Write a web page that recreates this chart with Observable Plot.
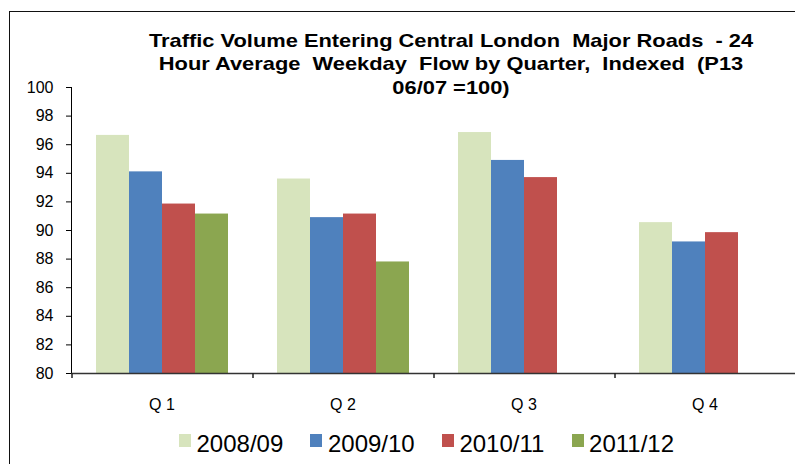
<!DOCTYPE html>
<html>
<head>
<meta charset="utf-8">
<script src="https://cdn.jsdelivr.net/npm/d3@7"></script>
<script src="https://cdn.jsdelivr.net/npm/@observablehq/plot@0.6"></script>
<style>
  html, body { margin: 0; padding: 0; background: #fff; }
  #wrap { position: relative; width: 795px; height: 464px; overflow: hidden; font-family: "Liberation Sans", Arial, sans-serif; }
  #frame { position: absolute; left: 8.5px; top: 10.5px; width: 820px; height: 480px; border: 1.5px solid #111; box-sizing: border-box; }
  #chart { position: absolute; left: 0; top: 0; }
  #title { position: absolute; left: 0; top: 28.6px; width: 902px; text-align: center; font-weight: bold; font-size: 19px; line-height: 23.7px; color: #000; white-space: pre; }
  #title div { display: block; transform: scaleX(1.15); transform-origin: 451px 0; }
  #legend { position: absolute; left: 179px; top: 430px; display: flex; gap: 27.2px; font-size: 24px; line-height: 28px; color: #000; }
  .item { display: flex; align-items: flex-start; }
  .sw { width: 12px; height: 13px; margin-top: 4px; margin-right: 5.5px; }
</style>
</head>
<body>
<div id="wrap">
  <div id="frame"></div>
  <div id="chart"></div>
  <div id="title"></div>
  <div id="legend"></div>
</div>
<script>
// Data
const quarters = ["Q 1", "Q 2", "Q 3", "Q 4"];
const years = ["2008/09", "2009/10", "2010/11", "2011/12"];
const colors = ["#D7E4BD", "#4F81BD", "#C0504D", "#8BA650"];
const v2008_09 = [96.65, 93.6, 96.85, 90.55];
const v2009_10 = [94.1, 90.9, 94.9, 89.2];
const v2010_11 = [91.85, 91.15, 93.7, 89.85];
const v2011_12 = [91.15, 87.8, null, null];
const yTicks = [80, 82, 84, 86, 88, 90, 92, 94, 96, 98, 100];
const titleLines = [
  "Traffic Volume Entering Central London  Major Roads  - 24",
  "Hour Average  Weekday  Flow by Quarter,  Indexed  (P13",
  "06/07 =100)"
];

const series = [v2008_09, v2009_10, v2010_11, v2011_12];
const rows = [];
quarters.forEach((q, i) => {
  years.forEach((y, j) => {
    const v = series[j][i];
    if (v != null) rows.push({quarter: q, year: y, value: v});
  });
});

const padOuter = 0.742;
const facetW = (795 - 71) / quarters.length;
const step = facetW / (years.length + 2 * padOuter);
const tickShift = -(step * padOuter + step / 2);

const chart = Plot.plot({
  width: 795,
  height: 464,
  marginLeft: 71,
  marginRight: 0,
  marginTop: 87,
  marginBottom: 91,
  style: {fontSize: "16px", fontFamily: "'Liberation Sans', Arial, sans-serif", color: "#000", background: "transparent"},
  facet: {data: rows, x: "quarter"},
  fx: {domain: quarters, padding: 0, axis: "bottom", label: null, tickSize: 0, tickPadding: 25},
  x: {domain: years, axis: null, paddingInner: 0, paddingOuter: padOuter},
  y: {domain: [80, 100], ticks: yTicks, tickSize: 5, tickPadding: 13, label: null, line: true},
  color: {domain: years, range: colors},
  marks: [
    Plot.barY(rows, {x: "year", y1: 80, y2: "value", fill: "year", inset: 0}),
    Plot.ruleY([80], {stroke: "#333", strokeWidth: 1.5}),
    Plot.ruleX([years[0]], {x: d => d, y1: 80, y2: 80, insetBottom: -5, dx: tickShift, stroke: "#222", strokeWidth: 1.5})
  ]
});
document.getElementById("chart").appendChild(chart);

const title = document.getElementById("title");
titleLines.forEach(t => {
  const d = document.createElement("div");
  d.textContent = t;
  title.appendChild(d);
});

const legend = document.getElementById("legend");
years.forEach((y, j) => {
  const it = document.createElement("div");
  it.className = "item";
  const sw = document.createElement("span");
  sw.className = "sw";
  sw.style.background = colors[j];
  const tx = document.createElement("span");
  tx.textContent = y;
  it.appendChild(sw);
  it.appendChild(tx);
  legend.appendChild(it);
});
</script>
</body>
</html>
